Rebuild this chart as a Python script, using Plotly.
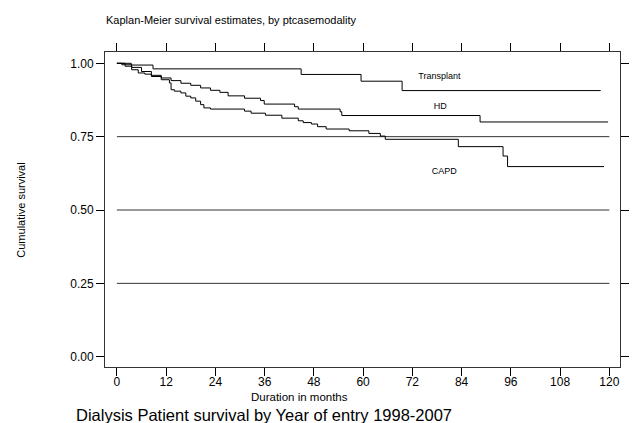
import plotly.graph_objects as go

# ---- data ----
transplant_t = [0, 3.5, 8.8, 44.9, 59.5, 69.5, 117.9]
transplant_s = [1.0, 0.994, 0.981, 0.962, 0.939, 0.907, 0.907]

hd_t = [0, 1.2, 3.6, 6.0, 8.4, 10.8, 13.2, 15.6, 18.0, 20.4, 22.8, 25.1, 27.1,
        31.1, 35.0, 35.9, 43.3, 44.2, 54.4, 54.8, 88.5, 119.7]
hd_s = [1.0, 0.995, 0.986, 0.972, 0.959, 0.950, 0.941, 0.932, 0.925, 0.916, 0.908, 0.901, 0.889,
        0.881, 0.873, 0.861, 0.852, 0.844, 0.835, 0.822, 0.800, 0.800]

capd_t = [0, 2.0, 3.6, 5.2, 6.8, 8.4, 10.8, 12.8, 13.2, 14.0, 15.6, 16.8, 18.0, 19.2, 20.4, 21.2, 22.8,
          31.1, 32.7, 36.2, 40.2, 44.2, 45.4, 47.4, 48.9, 51.0, 56.6, 61.4, 64.2, 65.4, 83.2, 94.1, 95.2, 118.7]
capd_s = [1.0, 0.990, 0.978, 0.967, 0.963, 0.955, 0.944, 0.933, 0.910, 0.905, 0.899, 0.888, 0.882, 0.871, 0.859, 0.848, 0.844,
          0.837, 0.830, 0.823, 0.813, 0.804, 0.798, 0.793, 0.784, 0.776, 0.770, 0.761, 0.752, 0.741, 0.716, 0.684, 0.648, 0.648]

ref_levels = [0.25, 0.50, 0.75]
ref_span = [0, 120]

x_ticks = [0, 12, 24, 36, 48, 60, 72, 84, 96, 108, 120]
y_ticks = [0.0, 0.25, 0.50, 0.75, 1.00]
y_ticklabels = ["0.00", "0.25", "0.50", "0.75", "1.00"]

curve_labels = ["Transplant", "HD", "CAPD"]
label_x = [78.6, 78.8, 79.8]
label_y = [0.954, 0.852, 0.630]

NARROW = "Liberation Sans Narrow, Liberation Sans, Arial, sans-serif"
ARIAL = "Liberation Sans, Arial, sans-serif"

fig = go.Figure()

for lvl in ref_levels:
    fig.add_trace(go.Scatter(x=ref_span, y=[lvl, lvl], mode="lines",
                             line=dict(color="#333333", width=1), hoverinfo="skip"))

for t, s in [(transplant_t, transplant_s), (hd_t, hd_s), (capd_t, capd_s)]:
    fig.add_trace(go.Scatter(x=t, y=s, mode="lines", line_shape="hv",
                             line=dict(color="#000000", width=1)))

fig.add_trace(go.Scatter(x=label_x, y=label_y, mode="text", text=curve_labels,
                         textfont=dict(family=ARIAL, size=9, color="#000000"),
                         textposition="middle center"))

fig.update_layout(
    width=633, height=423,
    margin=dict(l=105, r=4, t=52, b=56),
    paper_bgcolor="white", plot_bgcolor="white",
    showlegend=False,
    xaxis=dict(range=[-2.9, 122.6], tickmode="array", tickvals=x_ticks,
               ticks="outside", ticklen=8, tickcolor="#000000", tickwidth=1,
               ticklabelstandoff=-4,
               showline=True, linecolor="#333333", linewidth=1, mirror="ticks",
               showgrid=False, zeroline=False,
               tickfont=dict(family=NARROW, size=12, color="#000000")),
    yaxis=dict(range=[-0.035, 1.0385], tickmode="array", tickvals=y_ticks,
               ticktext=y_ticklabels,
               ticks="outside", ticklen=8, tickcolor="#000000", tickwidth=1,
               showline=True, linecolor="#333333", linewidth=1, mirror="ticks",
               showgrid=False, zeroline=False,
               tickfont=dict(family=ARIAL, size=12, color="#000000")),
    annotations=[
        dict(text="Kaplan-Meier survival estimates, by ptcasemodality", xref="paper", yref="paper",
             x=-0.002, y=1.1016, xanchor="left", yanchor="middle", showarrow=False,
             font=dict(family=ARIAL, size=11, color="#000000")),
        dict(text="Cumulative survival", xref="paper", yref="paper", textangle=-90,
             x=-0.162, y=0.498, xanchor="center", yanchor="middle", showarrow=False,
             font=dict(family=ARIAL, size=11, color="#000000")),
        dict(text="Duration in months", xref="paper", yref="paper",
             x=0.378, y=-0.096, xanchor="center", yanchor="middle", showarrow=False,
             font=dict(family=NARROW, size=11.5, color="#000000")),
        dict(text="Dialysis Patient survival by Year of entry 1998-2007", xref="paper", yref="paper",
             x=0.309, y=-0.151, xanchor="center", yanchor="middle", showarrow=False,
             font=dict(family=NARROW, size=16.5, color="#000000")),
    ],
)

fig.write_html("out.html", config={"displayModeBar": False},
               post_script="document.body.style.margin='0px';document.body.style.overflow='hidden';")
